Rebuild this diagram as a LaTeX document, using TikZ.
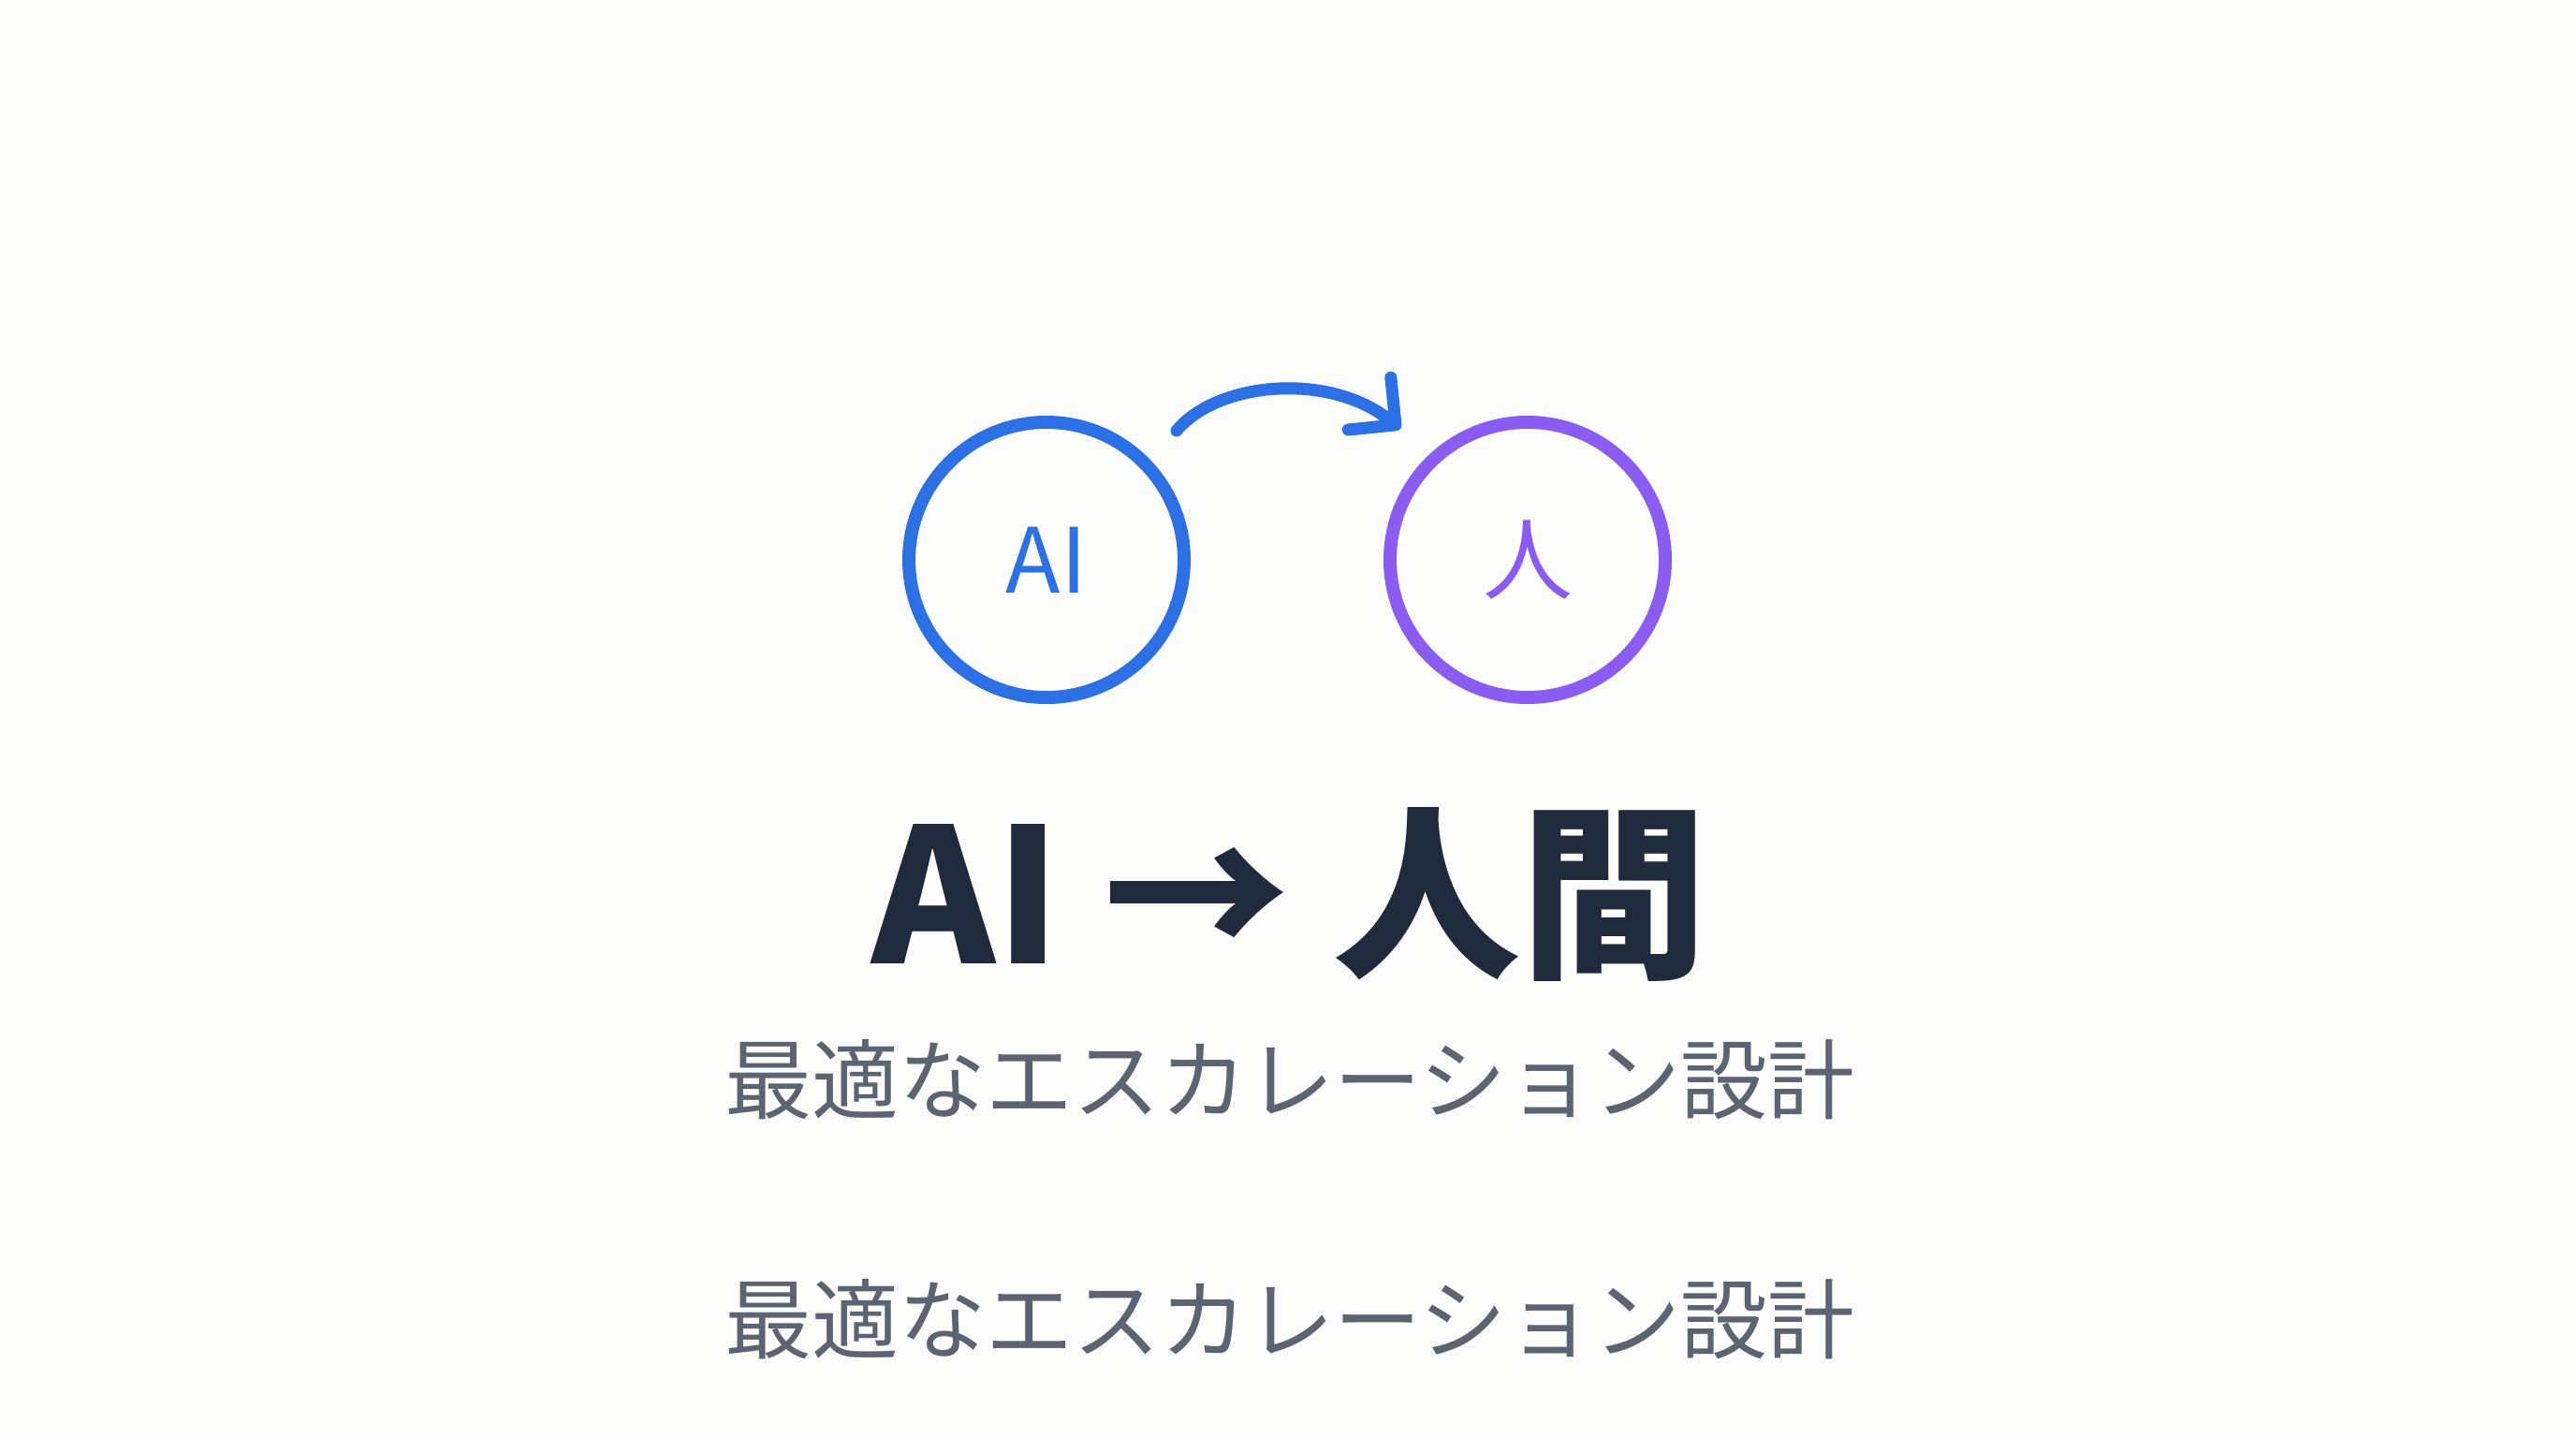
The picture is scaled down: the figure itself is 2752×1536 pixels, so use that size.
\documentclass[tikz,border=0pt]{standalone}
\usepackage{fontspec}
\usepackage{xcolor}
\usepackage{tikz}
\usetikzlibrary{arrows.meta}
\newfontfamily\jpfont{Noto Sans CJK JP}
\definecolor{aiblue}{HTML}{2B70E4}
\definecolor{humanpurple}{HTML}{8A5CF2}
\definecolor{titleink}{HTML}{1F2A3D}
\definecolor{subink}{HTML}{5C6472}
\definecolor{paper}{HTML}{FDFDFC}

\begin{document}
\begin{tikzpicture}[x=0.5pt, y=-0.5pt,
		ring/.style={draw, circle, line width=7pt, minimum size=147pt, inner sep=0pt, font=\jpfont\fontsize{48}{48}\selectfont},
		handover/.style={line width=6.5pt, line cap=round, aiblue, -{Straight Barb[length=18pt,width=36pt,line width=6.5pt,round]}},
		subline/.style={font=\jpfont\fontsize{46.5}{46.5}\selectfont, text=subink, inner sep=0pt}]
			\fill[paper] (0,0) rectangle (2752,1536);
			\useasboundingbox (0,0) rectangle (2752,1536);
			% circles
			\node[ring, aiblue, text=aiblue] (ai) at (1118,598) {AI};
			\node[ring, humanpurple, text=humanpurple] (human) at (1632,598) {人};
			% hand-over arrow
			\coordinate (handstart) at (1257,460);
			\coordinate (handend) at (1496,458);
			\draw[handover] (handstart) .. controls (1300,408) and (1420,396) .. (handend);
			% texts
			\node[font=\jpfont\bfseries\fontsize{100}{100}\selectfont, text=titleink, inner sep=0pt] (title) at (1378,955) {AI → 人間};
			\node[subline] (sub1) at (1378,1153) {最適なエスカレーション設計};
			\node[subline] (sub2) at (1378,1409) {最適なエスカレーション設計};
		\end{tikzpicture}
\end{document}
